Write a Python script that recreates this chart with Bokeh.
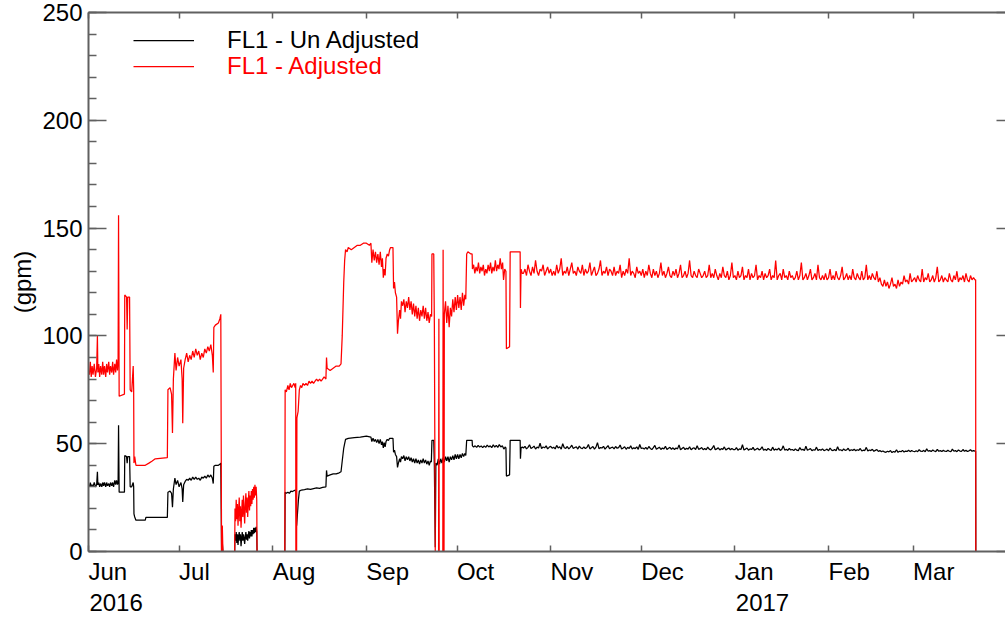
from datetime import datetime, timedelta
from bokeh.plotting import figure
from bokeh.models import (DatetimeAxis, LinearAxis, FixedTicker, Range1d, Legend, LegendItem)
from bokeh.embed import file_html
from bokeh.resources import INLINE

# ---------------- data ----------------
START = datetime(2016, 6, 1)
END = datetime(2017, 3, 31, 14)

MONTH_STARTS = ["2016-06-01", "2016-07-01", "2016-08-01", "2016-09-01", "2016-10-01",
                "2016-11-01", "2016-12-01", "2017-01-01", "2017-02-01", "2017-03-01"]
MONTH_NAMES = ["Jun", "Jul", "Aug", "Sep", "Oct", "Nov", "Dec", "Jan", "Feb", "Mar"]
YEAR_STARTS = ["2016-06-01", "2017-01-01"]
YEAR_NAMES = ["2016", "2017"]
Y_TICKS = [0, 50, 100, 150, 200, 250]

# FL1 - Adjusted: irregular part (days since 2016-06-01, gpm)
ADJ_T = [0.3, 0.6, 0.9, 1.2, 1.5, 1.9, 2.3, 2.7, 2.95, 3.1, 3.4, 3.7, 4.0, 4.4, 4.7, 5.0, 5.3, 5.7,
         6.0, 6.3, 6.7, 7.0, 7.3, 7.7, 8.0, 8.3, 8.7, 9.0, 9.3, 9.6, 9.8, 9.95, 10.15, 11.9, 12.0,
         12.6, 12.8, 13.0, 13.6, 13.8, 14.3, 14.8, 14.95, 15.05, 15.3, 15.7, 18.8, 20.0, 21.1, 22.1,
         26.1, 26.3, 27.0, 27.5, 27.8, 28.1, 28.6, 29.0, 29.5, 30.0, 30.6, 31.0, 31.2, 31.5, 32.0,
         32.5, 33.0, 33.5, 34.0, 34.5, 35.0, 35.5, 36.0, 36.5, 37.0, 37.5, 38.0, 38.5, 39.0, 39.5,
         40.0, 40.5, 41.0, 41.3, 41.5, 42.0, 43.0, 43.5, 43.8, 44.05, 44.3, 44.5, 48.4,
         48.5, 48.7, 48.9, 49.1, 49.3, 49.5, 49.7, 49.9, 50.1, 50.3, 50.5, 50.7, 50.9, 51.1, 51.3,
         51.5, 51.7, 51.9, 52.1, 52.3, 52.5, 52.7, 52.9, 53.1, 53.3, 53.5, 53.7, 53.9, 54.1, 54.3,
         54.5, 54.7, 54.9, 55.1, 55.3, 55.5, 55.7, 55.8, 65.0,
         65.1, 65.5, 66.0, 66.4, 66.8, 67.2, 67.6, 68.0, 68.4, 68.6, 68.65, 68.9, 69.0, 69.4, 69.8,
         70.2, 70.6, 71.0, 71.5, 72.0, 72.5, 73.0, 73.5, 74.0, 74.5, 75.0, 75.5, 76.0, 76.5, 77.0,
         77.5, 78.0, 78.6, 78.8, 79.0, 80.0, 81.0, 82.0, 83.0, 83.6, 84.0, 84.5, 84.8, 85.1, 85.6,
         86.0, 87.0, 88.0, 89.0, 90.0, 91.0, 92.0, 93.0, 93.5, 93.8, 94.2, 94.6, 95.0, 95.4, 95.8,
         96.2, 96.6, 97.0, 97.3, 97.6, 97.9, 98.2, 98.5, 98.9, 99.3, 99.7, 100.0, 100.8, 101.0,
         101.3, 101.6, 102.0, 102.3, 102.6, 103.0, 103.3, 103.6, 104.0, 104.4, 104.8, 105.2, 105.6,
         106.0, 106.4, 106.8, 107.2, 107.6, 108.0, 108.4, 108.8, 109.2, 109.6, 110.0, 110.4, 110.8,
         111.2, 111.6, 112.0, 112.4, 112.8, 113.2, 113.6, 113.7, 114.3, 114.5, 114.8, 115.9, 116.0,
         116.1, 117.3, 117.4, 117.5, 117.7, 117.8, 118.2, 118.6, 119.0, 119.4, 119.8, 120.2, 120.6,
         121.0, 121.4, 121.8, 122.2, 122.6, 123.0, 123.4, 123.8, 124.2, 124.6, 124.9, 125.2, 125.6,
         126.6, 127.0, 127.1, 127.5, 127.9, 128.3, 128.7, 129.1, 129.5, 129.9, 130.3, 130.7, 131.1,
         131.5, 131.9, 132.3, 132.7, 133.1, 133.5, 133.9, 134.3, 134.7, 135.1, 135.5, 135.9, 136.3,
         136.7, 137.1, 137.4, 137.8, 138.2, 138.35, 139.4, 139.6, 142.9, 143.0, 143.2, 143.6]
ADJ_V = [82, 88, 81, 86, 82, 87, 81, 85, 100, 83, 87, 81, 86, 82, 88, 82, 86, 81,
         87, 83, 88, 82, 86, 83, 88, 82, 87, 83, 89, 84, 88, 156, 72, 73, 119,
         118, 103, 118, 118, 75, 74, 86, 75, 41, 44, 40, 40, 41, 42, 43,
         43.5, 75, 76, 73, 55, 80, 92, 84, 90, 86, 89, 80, 59.5, 85, 89,
         92, 88, 91, 89, 93, 90, 94, 91, 93, 89, 92, 90, 94, 92, 95,
         93, 96, 91, 83, 104, 105, 106, 108, 110, 0, 12, 0, 0,
         20, 14, 24, 15, 22, 12, 19, 25, 14, 21, 11, 18, 24, 16, 26,
         19, 13, 22, 27, 18, 25, 16, 23, 28, 19, 26, 21, 28, 22, 29,
         24, 30, 25, 31, 26, 30, 24, 0, 0,
         75, 74, 77, 75, 78, 76, 77, 78, 76, 78, 0, 0, 62, 65, 75,
         77, 76, 78, 77, 78, 77, 79, 78, 79, 78, 79, 80, 79, 80, 79,
         80, 81, 80, 90, 85, 84, 85, 86, 86, 87, 100, 125, 135, 140, 139,
         141, 140, 141, 142, 142, 143, 143, 142, 143, 134, 140, 135, 139, 134, 138,
         133, 139, 132, 136, 127, 131, 128, 136, 138, 137, 140, 141, 141, 122,
         125, 120, 118, 101, 107, 112, 108, 116, 114, 117, 111, 116, 113,
         118, 112, 116, 110, 115, 109, 114, 108, 113, 107, 112, 109, 114,
         108, 113, 107, 111, 106, 110, 109, 138, 138, 106, 0, 0, 108,
         0, 0, 140, 0, 0, 110, 116, 106, 114, 104, 113, 109, 117,
         111, 118, 112, 119, 113, 118, 112, 120, 114, 119, 117, 138, 139,
         138, 138, 131, 133, 129, 132, 130, 134, 129, 132, 130, 133, 128,
         131, 129, 133, 130, 134, 129, 132, 130, 135, 130, 133, 131, 136,
         131, 134, 126, 131, 130, 94, 95, 139, 139, 113, 131, 129]

# FL1 - Adjusted: two readings per day from day 144 on
FLAT_START = 144
FLAT_STEP = 0.5
ADJ_FLAT = [129, 131, 128, 133, 130, 128, 132, 129, 135, 130, 128, 131, 130, 133, 128, 130, 132, 129, 131, 128,
            130, 128, 133, 129, 131, 136, 128, 130, 129, 132, 128, 131, 134, 129, 130, 128, 132, 130, 129, 133,
            128, 131, 129, 130, 134, 128, 130, 132, 128, 129, 131, 135, 128, 130, 129, 132, 128, 131, 130, 128,
            132, 128, 130, 129, 133, 127, 130, 128, 131, 129, 136, 128, 130, 129, 127, 132, 129, 130, 128, 131,
            127, 130, 128, 133, 129, 127, 131, 128, 130, 127, 129, 134, 128, 130, 127, 129, 132, 128, 127, 130,
            128, 131, 127, 129, 133, 127, 128, 130, 127, 129, 135, 128, 127, 130, 128, 127, 131, 129, 127, 128,
            130, 127, 128, 133, 127, 129, 127, 131, 128, 126, 129, 127, 132, 128, 127, 130, 126, 128, 134, 127,
            128, 126, 130, 127, 128, 132, 126, 128, 127, 131, 126, 129, 127, 128, 133, 126, 128, 127, 130, 126,
            129, 127, 128, 131, 126, 128, 127, 135, 126, 128, 129, 126, 131, 127, 128, 126, 130, 127, 128, 126,
            127, 130, 126, 128, 134, 126, 127, 129, 126, 128, 131, 126, 127, 129, 126, 133, 127, 126, 128, 126,
            129, 126, 127, 131, 126, 128, 126, 130, 127, 126, 128, 132, 126, 127, 129, 126, 128, 126, 131, 127,
            126, 129, 127, 126, 130, 126, 127, 133, 126, 128, 126, 129, 127, 126, 130, 125, 127, 124, 123, 126,
            123, 125, 122, 124, 127, 123, 124, 122, 126, 123, 125, 124, 128, 125, 126, 124, 129, 125, 126, 127,
            125, 128, 126, 125, 131, 125, 127, 126, 129, 125, 126, 128, 125, 127, 132, 125, 126, 128, 125, 127,
            126, 125, 129, 126, 125, 128, 126, 130, 125, 127, 126, 128, 125, 129, 126, 125, 128, 126, 127, 126]
ADJ_TAIL_T = [293.7, 293.75, 303.0]
ADJ_TAIL_V = [126, 0, 0]

# FL1 - Un Adjusted: irregular part
UNADJ_T = [0.3, 0.6, 0.9, 1.2, 1.5, 1.9, 2.3, 2.7, 2.95, 3.1, 3.4, 3.7, 4.0, 4.4, 4.7, 5.0, 5.3, 5.7,
           6.0, 6.3, 6.7, 7.0, 7.3, 7.7, 8.0, 8.3, 8.7, 9.0, 9.3, 9.6, 9.8, 9.95, 10.15, 11.9, 12.0,
           12.6, 12.8, 13.0, 13.6, 13.8, 14.3, 14.8, 14.95, 15.05, 15.3, 15.7, 18.8, 19.0, 26.1,
           26.3, 27.0, 27.5, 27.8, 28.1, 28.6, 29.0, 29.5, 30.0, 30.6, 31.0, 31.2, 31.5, 32.0,
           32.5, 33.0, 33.5, 34.0, 34.5, 35.0, 35.5, 36.0, 36.5, 37.0, 37.5, 38.0, 38.5, 39.0, 39.5,
           40.0, 40.5, 41.0, 41.3, 41.5, 42.0, 43.0, 43.5, 43.8, 44.05, 44.3, 44.5, 48.4,
           48.5, 48.7, 48.9, 49.1, 49.3, 49.5, 49.7, 49.9, 50.1, 50.3, 50.5, 50.7, 50.9, 51.1, 51.3,
           51.5, 51.7, 51.9, 52.1, 52.3, 52.5, 52.7, 52.9, 53.1, 53.3, 53.5, 53.7, 53.9, 54.1, 54.3,
           54.5, 54.7, 54.9, 55.1, 55.3, 55.5, 55.7, 55.8, 65.0,
           65.1, 65.5, 66.0, 66.5, 67.0, 67.5, 68.0, 68.6, 68.7, 68.9, 69.2, 69.5, 69.8, 70.5,
           71.5, 72.5, 73.5, 74.5, 75.5, 76.5, 77.5, 78.6, 78.8, 79.0, 80.0, 81.0, 82.0, 83.0, 83.6,
           84.0, 84.5, 84.8, 85.1, 86.0, 88.0, 90.0, 92.0, 93.5, 93.8, 94.2, 94.6, 95.0, 95.4, 95.8,
           96.2, 96.6, 97.0, 97.3, 97.6, 97.9, 98.2, 98.5, 98.9, 99.3, 99.7, 100.0, 100.8, 101.0,
           101.3, 101.6, 102.0, 102.3, 102.6, 103.0, 103.3, 103.6, 104.0, 104.4, 104.8, 105.2, 105.6,
           106.0, 106.4, 106.8, 107.2, 107.6, 108.0, 108.4, 108.8, 109.2, 109.6, 110.0, 110.4, 110.8,
           111.2, 111.6, 112.0, 112.4, 112.8, 113.2, 113.5, 113.7, 114.3, 114.5, 114.8, 115.0,
           115.4, 115.8, 116.2, 116.6, 117.0, 117.4, 117.8, 118.2, 118.6, 119.0, 119.4, 119.8, 120.2,
           120.6, 121.0, 121.4, 121.8, 122.2, 122.6, 123.0, 123.4, 123.8, 124.2, 124.6, 124.9, 125.2,
           126.6, 127.0, 127.1, 127.5, 128.0, 128.5, 129.0, 129.5, 130.0, 130.5, 131.0, 131.5, 132.0,
           132.5, 133.0, 133.5, 134.0, 134.5, 135.0, 135.5, 136.0, 136.5, 137.0, 137.5, 138.0, 138.2,
           138.35, 139.4, 139.6, 142.9, 143.0, 143.2, 143.6]
UNADJ_V = [30, 32, 30, 31, 30, 32, 30, 31, 37, 31, 32, 30, 31.5, 30, 32, 30.5, 32, 30,
           32, 30.5, 31.5, 30, 32, 30.5, 32, 30, 33, 31, 33, 31, 32, 58.5, 27.5, 27.5, 44.5,
           44, 41, 44, 44, 30, 30, 32, 30, 17.5, 16, 14.5, 14.5, 15.8, 15.8,
           27.5, 28, 27, 20.5, 29, 34, 31, 33, 30, 32, 29, 23, 31, 32.5,
           33.5, 33, 34, 33, 34.5, 33.5, 34.5, 33.5, 34, 33, 34.5, 34, 35, 34, 35.5,
           34.5, 35.5, 34, 31.5, 39.5, 40, 40, 40.5, 41, 0, 4, 0, 0,
           8, 5, 9, 4, 8, 3, 7, 9, 5, 8, 2.5, 6, 9, 5, 8,
           6, 3.5, 7, 9, 5.5, 8, 5, 7.5, 9.5, 6, 9, 7, 10, 7, 10,
           8, 11, 8.5, 11, 9, 11.5, 9, 0, 0,
           27.5, 27, 27.5, 27, 28, 27.8, 28.2, 28.5, 27, 12, 18, 24, 28, 28.5,
           28.7, 29, 28.8, 29.2, 29.5, 29.3, 29.7, 30, 37.6, 35, 35.5, 36, 36, 36.5, 37,
           42, 48, 50, 52, 52.5, 52.8, 53, 53.5, 53, 51, 52.5, 51, 52, 50.5, 52,
           50, 52, 49.5, 51, 48, 50.5, 48.5, 51, 52, 51.5, 52.5, 52.5, 52.5, 46,
           47, 45, 44, 39, 41, 43, 41.5, 44, 43, 44.5, 42, 44, 42.5,
           44, 42, 43.5, 41.5, 43, 41, 43, 41, 42.5, 40.5, 42.5, 41, 43,
           41, 42.5, 40.5, 42, 40, 42, 41.5, 51.6, 51.6, 40, 2, 41,
           40, 43, 40.5, 43, 41, 43.5, 41.5, 44, 42, 44, 41.5, 44, 42.5,
           44.5, 42.5, 45, 43, 45, 43, 45, 43.5, 45.5, 44, 45.5, 44.5, 51.6,
           51.6, 51.6, 49, 48.5, 49, 48.3, 49.2, 48.4, 49, 48.2, 49, 48.3, 49.3,
           48.5, 49, 48.2, 49.5, 48.4, 49.2, 48.3, 49.6, 48.5, 49, 47.5, 48.5, 48,
           35, 35.5, 51.6, 51.6, 43, 48, 48.5]

UNADJ_FLAT = [48, 48.8, 47.6, 48.3, 49.5, 47.8, 48.2, 48.9, 47.5, 48.4, 48, 50.2, 47.7, 48.5, 48.1, 49, 47.6, 48.3, 48.8, 47.9,
              48.4, 47.6, 49.2, 48, 48.6, 47.5, 50, 48.1, 47.8, 48.7, 47.6, 48.3, 49.3, 47.8, 48.2, 48.6, 47.5, 48.9, 48, 47.7,
              48.5, 47.8, 48.2, 49.6, 47.6, 48.1, 48.7, 47.5, 48.4, 50.5, 47.7, 48.2, 48, 48.8, 47.5, 48.3, 49.1, 47.7, 48.1, 48.4,
              47.6, 48.7, 47.9, 48.2, 49.4, 47.5, 48, 48.6, 47.4, 48.3, 47.8, 49, 47.5, 48.1, 47.7, 48.5, 47.4, 49.6, 47.8, 48,
              47.5, 48.3, 47.4, 48.7, 47.8, 47.3, 48.2, 49.2, 47.4, 47.9, 48.4, 47.3, 48, 47.6, 48.8, 47.3, 47.9, 48.3, 47.4, 48.1,
              47.3, 48, 47.6, 49.4, 47.2, 47.8, 48.3, 47.3, 47.9, 47.5, 48.6, 47.2, 47.8, 48.1, 47.3, 49, 47.4, 47.7, 48.2, 47.2,
              47.8, 47.2, 48.4, 47.5, 47.1, 47.9, 49.2, 47.2, 47.6, 48.1, 47.1, 47.7, 47.4, 48.5, 47.1, 47.6, 48, 47.2, 47.8, 47.3,
              47.2, 48.2, 47, 47.6, 47.3, 49.5, 47.1, 47.5, 48, 47, 47.6, 47.3, 48.3, 47, 47.4, 47.9, 47.1, 47.5, 48.6, 47,
              47.4, 46.9, 47.8, 47.2, 46.9, 48.4, 47, 47.5, 47.1, 47.9, 46.9, 47.3, 49, 47, 47.4, 46.9, 47.8, 47.1, 47.3, 46.8,
              47.6, 47, 46.8, 48.2, 47.1, 47.4, 46.8, 48.8, 47, 47.3, 47.7, 46.8, 47.2, 47, 48.4, 46.8, 47.3, 47, 47.6, 46.8,
              47.1, 47.5, 46.7, 48, 47, 46.8, 47.3, 46.7, 48.6, 47, 47.2, 46.7, 47.6, 46.9, 47.1, 47.9, 46.7, 47.2, 46.9, 47.4,
              46.7, 47.2, 46.9, 47.8, 46.6, 47, 46.8, 48.3, 46.6, 47.1, 46.8, 47.4, 46.5, 46.9, 47.3, 46.4, 46.8, 46.3, 46.6, 46.2,
              46, 46.5, 46.2, 46.8, 45.9, 46.4, 46.1, 47.2, 46, 46.5, 46.3, 46.9, 46.1, 46.6, 46.4, 47, 46.3, 46.8, 46.5, 46.3,
              46.7, 46.3, 47.2, 46.5, 46.4, 46.9, 46.3, 47.6, 46.5, 46.8, 46.4, 47.1, 46.6, 46.3, 47.4, 46.5, 46.8, 46.4, 46.9, 46.5,
              46.4, 47, 46.5, 46.3, 47.5, 46.5, 46.8, 46.3, 47.1, 46.6, 46.4, 47.3, 46.5, 46.9, 46.4, 46.7, 47.2, 46.5, 46.8, 46.6]
UNADJ_TAIL_T = [293.7, 293.75, 303.0]
UNADJ_TAIL_V = [46.5, 0, 0]

# ---------------- helpers ----------------
EPOCH = datetime(1970, 1, 1)
PX_PER_DAY = 3.03
FONT = "Liberation Sans"
FS_PX = 24
FS = "%dpx" % FS_PX
AX = "#606060"
# Arial/Liberation Sans advance widths (em) for placing left-aligned tick labels
ADV = {"J": .5, "u": .556, "n": .556, "l": .222, "A": .667, "g": .556, "S": .667, "e": .556,
       "p": .556, "O": .778, "c": .5, "t": .278, "N": .722, "o": .556, "v": .5, "D": .722,
       "a": .556, "F": .611, "b": .556, "M": .833, "r": .333}


def ms(d):
    return (d - EPOCH).total_seconds() * 1000.0


def text_w(s):
    return sum(ADV.get(ch, .556) for ch in s) * FS_PX


def series(t_irr, v_irr, flat, t_tail, v_tail):
    days = list(t_irr) + [FLAT_START + FLAT_STEP * i for i in range(len(flat))] + list(t_tail)
    vals = list(v_irr) + list(flat) + list(v_tail)
    return [START + timedelta(days=d) for d in days], vals


adj_x, adj_y = series(ADJ_T, ADJ_V, ADJ_FLAT, ADJ_TAIL_T, ADJ_TAIL_V)
un_x, un_y = series(UNADJ_T, UNADJ_V, UNADJ_FLAT, UNADJ_TAIL_T, UNADJ_TAIL_V)

month_dt = [datetime.strptime(s, "%Y-%m-%d") for s in MONTH_STARTS]
month_ms = [ms(d) for d in month_dt]
# label anchor = month start + half the label width (labels start at the tick)
month_lab = [ms(d + timedelta(days=text_w(n) / 2 / PX_PER_DAY)) for d, n in zip(month_dt, MONTH_NAMES)]
year_dt = [datetime.strptime(s, "%Y-%m-%d") for s in YEAR_STARTS]
year_lab = [ms(d + timedelta(days=(text_w(n) / 2 + 1) / PX_PER_DAY)) for d, n in zip(year_dt, YEAR_NAMES)]

p = figure(width=1005, height=620, x_axis_type="datetime",
           x_range=Range1d(ms(START), ms(END)), y_range=Range1d(0, 250),
           output_backend="svg", toolbar_location=None,
           min_border_left=88, min_border_top=12, min_border_right=0, min_border_bottom=69)
p.grid.visible = False
p.outline_line_color = None
p.background_fill_color = "white"

# bottom axis: month ticks as minor ticks, month names as (tick-less) major labels
xb = p.xaxis[0]
xb.ticker = FixedTicker(ticks=month_lab, minor_ticks=month_ms)
xb.major_label_overrides = {t: n for t, n in zip(month_lab, MONTH_NAMES)}
xb.major_label_text_font = FONT
xb.major_label_text_font_size = FS
xb.major_label_text_color = "black"
xb.major_label_standoff = 6
xb.major_tick_in = 0
xb.major_tick_out = 0
xb.major_tick_line_color = None
xb.minor_tick_in = 6
xb.minor_tick_out = 0
xb.minor_tick_line_color = AX
xb.minor_tick_line_width = 1.5
xb.axis_line_color = AX
xb.axis_line_width = 2

# second row of bottom labels: the years
xy = DatetimeAxis(ticker=FixedTicker(ticks=year_lab, minor_ticks=[]))
xy.major_label_overrides = {t: n for t, n in zip(year_lab, YEAR_NAMES)}
xy.major_label_text_font = FONT
xy.major_label_text_font_size = FS
xy.major_label_text_color = "black"
xy.major_label_standoff = 6
xy.major_tick_in = 0
xy.major_tick_out = 0
xy.major_tick_line_color = None
xy.minor_tick_in = 0
xy.minor_tick_out = 0
xy.axis_line_color = None
p.add_layout(xy, "below")

# top axis (ticks only)
xt = DatetimeAxis(ticker=FixedTicker(ticks=[], minor_ticks=month_ms))
xt.major_label_standoff = 0
xt.major_tick_in = 0
xt.major_tick_out = 0
xt.minor_tick_in = 6
xt.minor_tick_out = 0
xt.minor_tick_line_color = AX
xt.minor_tick_line_width = 1.5
xt.axis_line_color = AX
xt.axis_line_width = 2
p.add_layout(xt, "above")

# left axis
yl = p.yaxis[0]
yl.ticker = FixedTicker(ticks=Y_TICKS, minor_ticks=list(range(0, 251, 10)))
yl.major_tick_in = 18
yl.major_tick_out = 0
yl.minor_tick_in = 8
yl.minor_tick_out = 0
yl.axis_line_color = AX
yl.axis_line_width = 2
yl.major_tick_line_color = AX
yl.major_tick_line_width = 1.5
yl.minor_tick_line_color = AX
yl.minor_tick_line_width = 1.5
yl.major_label_text_font = FONT
yl.major_label_text_font_size = FS
yl.major_label_text_color = "black"
yl.major_label_standoff = 6
yl.axis_label = "(gpm)"
yl.axis_label_text_font = FONT
yl.axis_label_text_font_size = FS
yl.axis_label_text_font_style = "normal"
yl.axis_label_text_color = "black"
yl.axis_label_standoff = 3

# right axis (major ticks only, its line lies beyond the picture)
yr = LinearAxis(ticker=FixedTicker(ticks=[], minor_ticks=Y_TICKS))
yr.major_label_standoff = 0
yr.major_tick_in = 0
yr.major_tick_out = 0
yr.minor_tick_in = 9
yr.minor_tick_out = 0
yr.minor_tick_line_color = AX
yr.minor_tick_line_width = 1.5
yr.axis_line_color = None
p.add_layout(yr, "right")

# data lines
r_un = p.line(un_x, un_y, line_color="black", line_width=1.25)
r_adj = p.line(adj_x, adj_y, line_color="red", line_width=1.25)

# legends
for r, lab, col, by in [(r_un, "FL1 - Un Adjusted", "black", 497),
                        (r_adj, "FL1 - Adjusted", "red", 471)]:
    lg = Legend(items=[LegendItem(label=lab, renderers=[r])], location=(45, by),
                glyph_width=61, glyph_height=26, label_height=26, label_standoff=33,
                label_text_font=FONT, label_text_font_size=FS, label_text_color=col,
                padding=0, margin=0, spacing=0, border_line_alpha=0,
                background_fill_alpha=0)
    p.add_layout(lg)

open("out.html", "w").write(file_html(p, INLINE))
